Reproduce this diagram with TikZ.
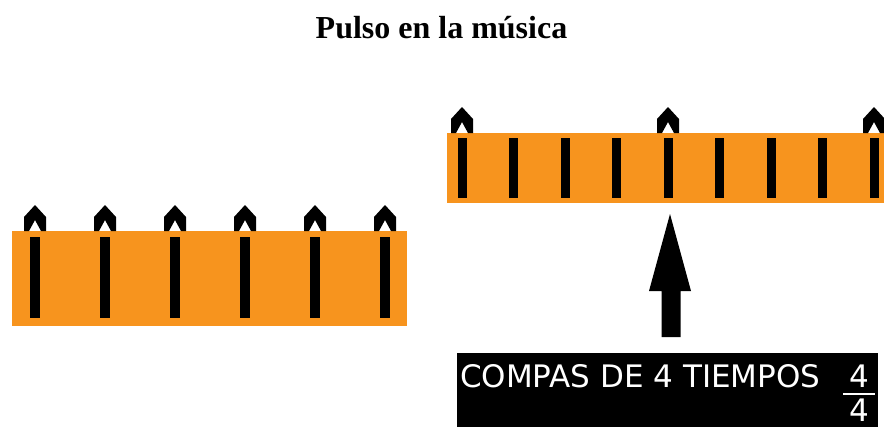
\documentclass[tikz,border=0pt]{standalone}
\usepackage{fontspec}
\newfontfamily\titlefont{Liberation Serif}
\newfontfamily\boxfont{DejaVu Sans}
\definecolor{pulse}{RGB}{247,148,30}
\begin{document}
\begin{tikzpicture}[x=1pt,y=-1pt,
  chev/.pic={\fill[black] (0,-26) -- (11,-14) -- (11,0) -- (6,0) -- (0,-11) -- (-6,0) -- (-11,0) -- (-11,-14) -- cycle;},
  barbox/.style={fill=pulse, inner sep=0pt, anchor=north west, draw=none},
  boxtext/.style={text=white, inner sep=0pt, font=\boxfont\fontsize{31}{31}\selectfont}]
\useasboundingbox (0,0) rectangle (884,426);
\clip (0,0) rectangle (884,426);
% title
\node[font=\titlefont\bfseries\fontsize{32}{32}\selectfont, anchor=base, inner sep=0pt] (title) at (441.5,38) {Pulso en la música};
% left bar
\node[barbox, minimum width=395pt, minimum height=95pt] (barL) at (12,231) {};
\foreach \x in {35,105,175,245,315,385}{
  \fill[black] (\x-5,237) rectangle (\x+5,318);
  \pic at (\x,231) {chev};
}
% right bar
\node[barbox, minimum width=440pt, minimum height=70pt] (barR) at (447,133) {};
\foreach \x in {462,513.5,565,616.5,668,719.5,771,822.5,874}{
  \fill[black] (\x-4.5,138) rectangle (\x+4.5,198);
}
\foreach \x in {462,668,874}{
  \pic at (\x,133) {chev};
}
% arrow
\coordinate (tip) at (670,214);
\fill[black] (tip) -- (691,291) -- (680.5,291) -- (680.5,337) -- (661.5,337) -- (661.5,291) -- (649,291) -- cycle;
% black box
\node[fill=black, inner sep=0pt, anchor=north west, minimum width=421pt, minimum height=80pt] (box) at (457,353) {};
\node[boxtext, anchor=base west] (lbl) at (460,387) {COMPAS DE 4 TIEMPOS};
\node[boxtext, anchor=base] (num) at (859,387) {4};
\draw[white, line width=2.5pt] (843,394) -- (875,394);
\node[boxtext, anchor=base] (den) at (859,421) {4};
\end{tikzpicture}
\end{document}
